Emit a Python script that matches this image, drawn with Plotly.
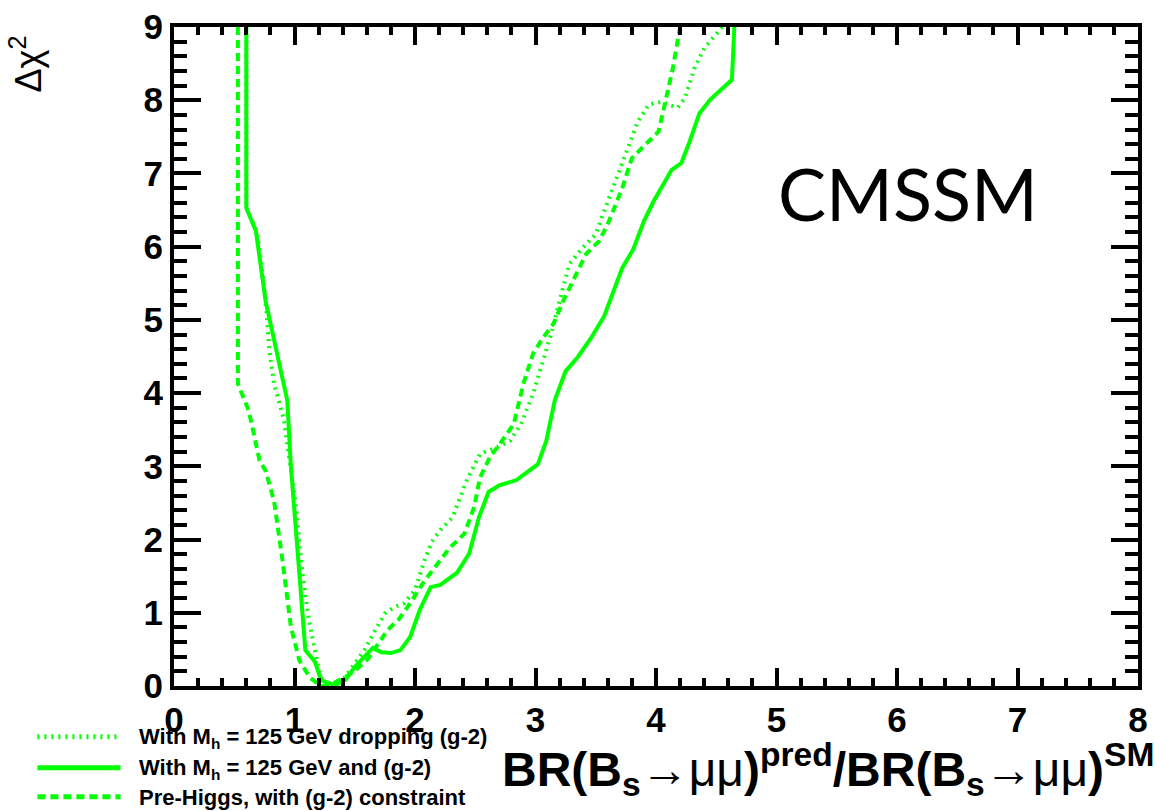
import plotly.graph_objects as go

# Delta chi^2 profiles vs BR(Bs->mumu)/SM ratio, CMSSM fits
solid_x = [0.60, 0.60, 0.68, 0.76, 0.94, 0.97, 1.03, 1.09, 1.17, 1.22, 1.34, 1.42, 1.50,
           1.58, 1.65, 1.72, 1.80, 1.88, 1.96, 2.04, 2.13, 2.21, 2.35, 2.45, 2.53, 2.61,
           2.70, 2.84, 3.02, 3.09, 3.16, 3.25, 3.35, 3.46, 3.57, 3.72, 3.81, 3.90, 3.98,
           4.13, 4.21, 4.28, 4.36, 4.45, 4.63, 4.65]
solid_y = [9.00, 6.53, 6.21, 5.26, 3.90, 3.00, 1.75, 0.49, 0.33, 0.08, 0.01, 0.08, 0.26,
           0.40, 0.52, 0.46, 0.45, 0.49, 0.67, 1.04, 1.35, 1.38, 1.55, 1.81, 2.30, 2.65,
           2.74, 2.81, 3.03, 3.35, 3.90, 4.30, 4.49, 4.75, 5.05, 5.71, 5.96, 6.35, 6.62,
           7.05, 7.14, 7.44, 7.82, 8.01, 8.28, 9.00]

dotted_x = [0.60, 0.60, 0.69, 0.76, 0.79, 0.83, 0.91, 0.96, 1.01, 1.06, 1.12, 1.18, 1.22,
            1.28, 1.42, 1.50, 1.58, 1.67, 1.75, 1.83, 1.91, 2.00, 2.08, 2.14, 2.21, 2.31,
            2.43, 2.54, 2.68, 2.79, 2.88, 2.98, 3.06, 3.13, 3.20, 3.28, 3.39, 3.50, 3.58,
            3.66, 3.77, 3.85, 3.94, 4.05, 4.12, 4.18, 4.24, 4.32, 4.40, 4.55]
dotted_y = [9.00, 6.53, 6.20, 5.30, 4.60, 4.13, 3.65, 3.10, 2.50, 1.62, 0.90, 0.40, 0.12,
            0.00, 0.12, 0.31, 0.49, 0.76, 0.99, 1.08, 1.13, 1.31, 1.72, 1.97, 2.13, 2.30,
            2.81, 3.17, 3.26, 3.35, 3.58, 3.99, 4.44, 4.81, 5.26, 5.76, 5.98, 6.17, 6.53,
            6.89, 7.35, 7.71, 7.94, 7.98, 7.93, 7.90, 8.03, 8.44, 8.71, 9.00]

dashed_x = [0.53, 0.53, 0.62, 0.71, 0.76, 0.83, 0.90, 0.97, 1.04, 1.13, 1.22, 1.30, 1.45,
            1.53, 1.61, 1.69, 1.77, 1.87, 1.96, 2.08, 2.16, 2.29, 2.41, 2.49, 2.54, 2.62,
            2.74, 2.82, 2.90, 2.98, 3.06, 3.15, 3.23, 3.34, 3.42, 3.53, 3.61, 3.72, 3.80,
            3.94, 4.02, 4.06, 4.10, 4.14, 4.20]
dashed_y = [9.00, 4.13, 3.76, 3.08, 2.94, 2.53, 1.72, 0.81, 0.35, 0.11, 0.00, 0.02, 0.15,
            0.25, 0.37, 0.56, 0.76, 0.92, 1.13, 1.44, 1.62, 1.89, 2.08, 2.44, 2.85, 3.12,
            3.39, 3.58, 4.13, 4.54, 4.75, 4.95, 5.26, 5.63, 5.90, 6.08, 6.35, 6.80, 7.21,
            7.44, 7.57, 7.85, 8.12, 8.44, 9.00]

series_names = ["With M<sub>h</sub> = 125 GeV dropping (g-2)",
                "With M<sub>h</sub> = 125 GeV and (g-2)",
                "Pre-Higgs, with (g-2) constraint"]
series_dash = ["2px,5px", "solid", "8px,5px"]

GREEN = "#00ff00"
LW = 4
W, H = 1155, 811
L, R, T, B = 174, 7, 25, 125
PW, PH = W - L - R, H - T - B


def px_x(p):
    return (p - L) / PW


def px_y(p):
    return (H - B - p) / PH


fig = go.Figure()
for xs, ys, name, dash in zip([dotted_x, solid_x, dashed_x],
                              [dotted_y, solid_y, dashed_y],
                              series_names, series_dash):
    fig.add_trace(go.Scatter(x=xs, y=ys, mode="lines", name=name, showlegend=False,
                             line=dict(color=GREEN, width=LW, dash=dash)))

tick_font = dict(family="Liberation Sans, Arial, sans-serif", size=35, color="black",
                 weight="bold")
common = dict(showline=True, linewidth=4, linecolor="black", mirror="allticks",
              ticks="inside", tickwidth=4, tickcolor="black", showgrid=False,
              zeroline=False, tickfont=tick_font)

fig.update_xaxes(range=[0, 8], tick0=0, dtick=1, ticklen=18,
                 minor=dict(dtick=0.2, ticks="inside", ticklen=8, tickwidth=4,
                            tickcolor="black", showgrid=False),
                 **common)
fig.update_yaxes(range=[0, 9], tick0=0, dtick=1, ticklen=27,
                 minor=dict(dtick=0.2, ticks="inside", ticklen=13, tickwidth=4,
                            tickcolor="black", showgrid=False),
                 **common)

annotations = []
# model label
annotations.append(dict(text="CMSSM", x=px_x(916), y=px_y(192), xref="paper", yref="paper",
                        showarrow=False, xanchor="center", yanchor="middle",
                        font=dict(family="Lato, sans-serif", size=72, color="black")))
# x-axis title
annotations.append(dict(
    text="<b>BR(B</b><sub><b>s</b></sub>→μμ<b>)</b><sup><b>pred</b></sup>"
         "<b>/BR(B</b><sub><b>s</b></sub>→μμ<b>)</b><sup><b>SM</b></sup>",
    x=px_x(1166), y=px_y(770), xref="paper", yref="paper", showarrow=False,
    xanchor="right", yanchor="middle",
    font=dict(family="Liberation Sans, Arial, sans-serif", size=48, color="black")))
# y-axis title
annotations.append(dict(text="Δχ<sup>2</sup>", x=px_x(24), y=px_y(62), xref="paper",
                        yref="paper", showarrow=False, textangle=-90,
                        xanchor="center", yanchor="middle",
                        font=dict(family="Liberation Sans, Arial, sans-serif", size=36,
                                  color="black")))

# legend block below the left of the frame
legend_rows = [737, 768, 797]
shapes = []
for row, name, dash in zip(legend_rows, series_names, series_dash):
    shapes.append(dict(type="line", xref="paper", yref="paper",
                       x0=px_x(36), x1=px_x(120), y0=px_y(row), y1=px_y(row),
                       line=dict(color=GREEN, width=5, dash=dash)))
    annotations.append(dict(text="<b>" + name.replace("<sub>", "</b><sub><b>")
                            .replace("</sub>", "</b></sub><b>") + "</b>",
                            x=px_x(137), y=px_y(row + 1), xref="paper", yref="paper",
                            showarrow=False, xanchor="left", yanchor="middle",
                            font=dict(family="Liberation Sans, Arial, sans-serif", size=22,
                                      color="black")))

fig.update_layout(width=W, height=H, margin=dict(l=L, r=R, t=T, b=B, pad=0),
                  paper_bgcolor="white", plot_bgcolor="white",
                  annotations=annotations, shapes=shapes, showlegend=False)

fig.write_html("out.html")
